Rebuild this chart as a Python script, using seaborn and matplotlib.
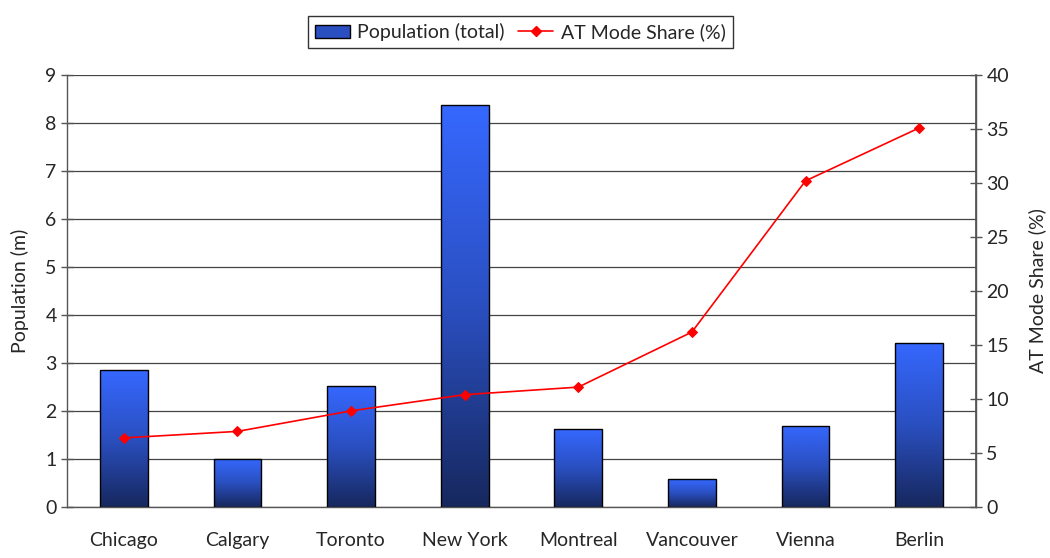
import numpy as np
import pandas as pd
import matplotlib
matplotlib.use("Agg")
import matplotlib.pyplot as plt
import seaborn as sns
from matplotlib.colors import LinearSegmentedColormap
from matplotlib.lines import Line2D
from matplotlib.patches import Patch

cities = ["Chicago", "Calgary", "Toronto", "New York", "Montreal", "Vancouver", "Vienna", "Berlin"]
population = [2.85, 1.0, 2.52, 8.37, 1.62, 0.58, 1.69, 3.42]
at_share = [6.4, 7.0, 8.9, 10.4, 11.1, 16.2, 30.2, 35.1]

sns.set_theme(style="white")
plt.rcParams['font.family'] = ['Lato', 'DejaVu Sans']
FS = 14

df = pd.DataFrame({"city": cities, "pop": population, "at": at_share})

fig = plt.figure(figsize=(10.5, 5.58), dpi=100)
ax = fig.add_axes([0.0638, 0.0914, 0.8657, 0.7742])

sns.barplot(data=df, x="city", y="pop", ax=ax, width=0.42, color="#2f5ef0",
            edgecolor="black", linewidth=1.0, zorder=2)

cmap = LinearSegmentedColormap.from_list("g", ["#17285e", "#2a4fc0", "#3668ff"])
grad = np.linspace(0, 1, 256).reshape(-1, 1)
for p in ax.patches:
    x0, y0 = p.get_x(), p.get_y()
    w, h = p.get_width(), p.get_height()
    im = ax.imshow(grad, extent=[x0, x0 + w, y0, y0 + h], origin="lower",
                   cmap=cmap, aspect="auto", zorder=2.5)
    im.set_clip_path(p)
    p.set_facecolor("none")
    p.set_zorder(3)

ax.set_xlim(-0.5, len(cities) - 0.5)
ax.set_ylim(0, 9)
ax.set_yticks(range(0, 10))
ax.yaxis.grid(True, color="#444444", linewidth=0.9, zorder=0)
ax.set_axisbelow(True)
ax.set_xlabel("")
ax.set_ylabel("Population (m)", fontsize=FS, labelpad=12)
ax.set_xticks(range(len(cities)))
ax.set_xticklabels(cities, fontsize=FS)
ax.tick_params(axis="x", length=0, pad=18)
ax.set_xticks(np.arange(0.5, len(cities) - 0.5, 1), minor=True)
ax.tick_params(axis="x", which="minor", length=7, direction="inout", color="#555555", width=1)
ax.tick_params(axis="y", length=8, direction="inout", color="#555555", width=1, labelsize=FS, left=True)
ax.spines["top"].set_visible(False)
for s in ["left", "bottom", "right"]:
    ax.spines[s].set_color("#555555")
    ax.spines[s].set_linewidth(1.0)

ax2 = ax.twinx()
sns.lineplot(data=df, x="city", y="at", ax=ax2, color="#ff0000", marker="D",
             markersize=5.5, markeredgecolor="#ff0000", linewidth=1.2, sort=False, zorder=5)
ax2.set_ylim(0, 40)
ax2.set_yticks(range(0, 41, 5))
ax2.set_ylabel("AT Mode Share (%)", fontsize=FS, labelpad=14)
ax2.tick_params(axis="y", length=8, direction="inout", color="#555555", width=1, labelsize=FS, right=True)
ax2.set_xlabel("")
for s in ["top", "left", "bottom"]:
    ax2.spines[s].set_visible(False)
ax2.spines["right"].set_color("#555555")
ax2.grid(False)
ax2.set_xlim(-0.5, len(cities) - 0.5)

handles = [Patch(facecolor="#2a4fc0", edgecolor="black", label="Population (total)"),
           Line2D([0], [0], color="#ff0000", marker="D", markersize=5, linewidth=1.2,
                  label="AT Mode Share (%)")]
leg = fig.legend(handles=handles, loc="upper center", bbox_to_anchor=(0.4955, 0.988), ncol=2,
                 frameon=True, fancybox=False, edgecolor="black", fontsize=FS,
                 handlelength=1.8, columnspacing=0.7, handletextpad=0.4, borderpad=0.35)
leg.get_frame().set_linewidth(1.0)

fig.savefig("out.png", dpi=100)
